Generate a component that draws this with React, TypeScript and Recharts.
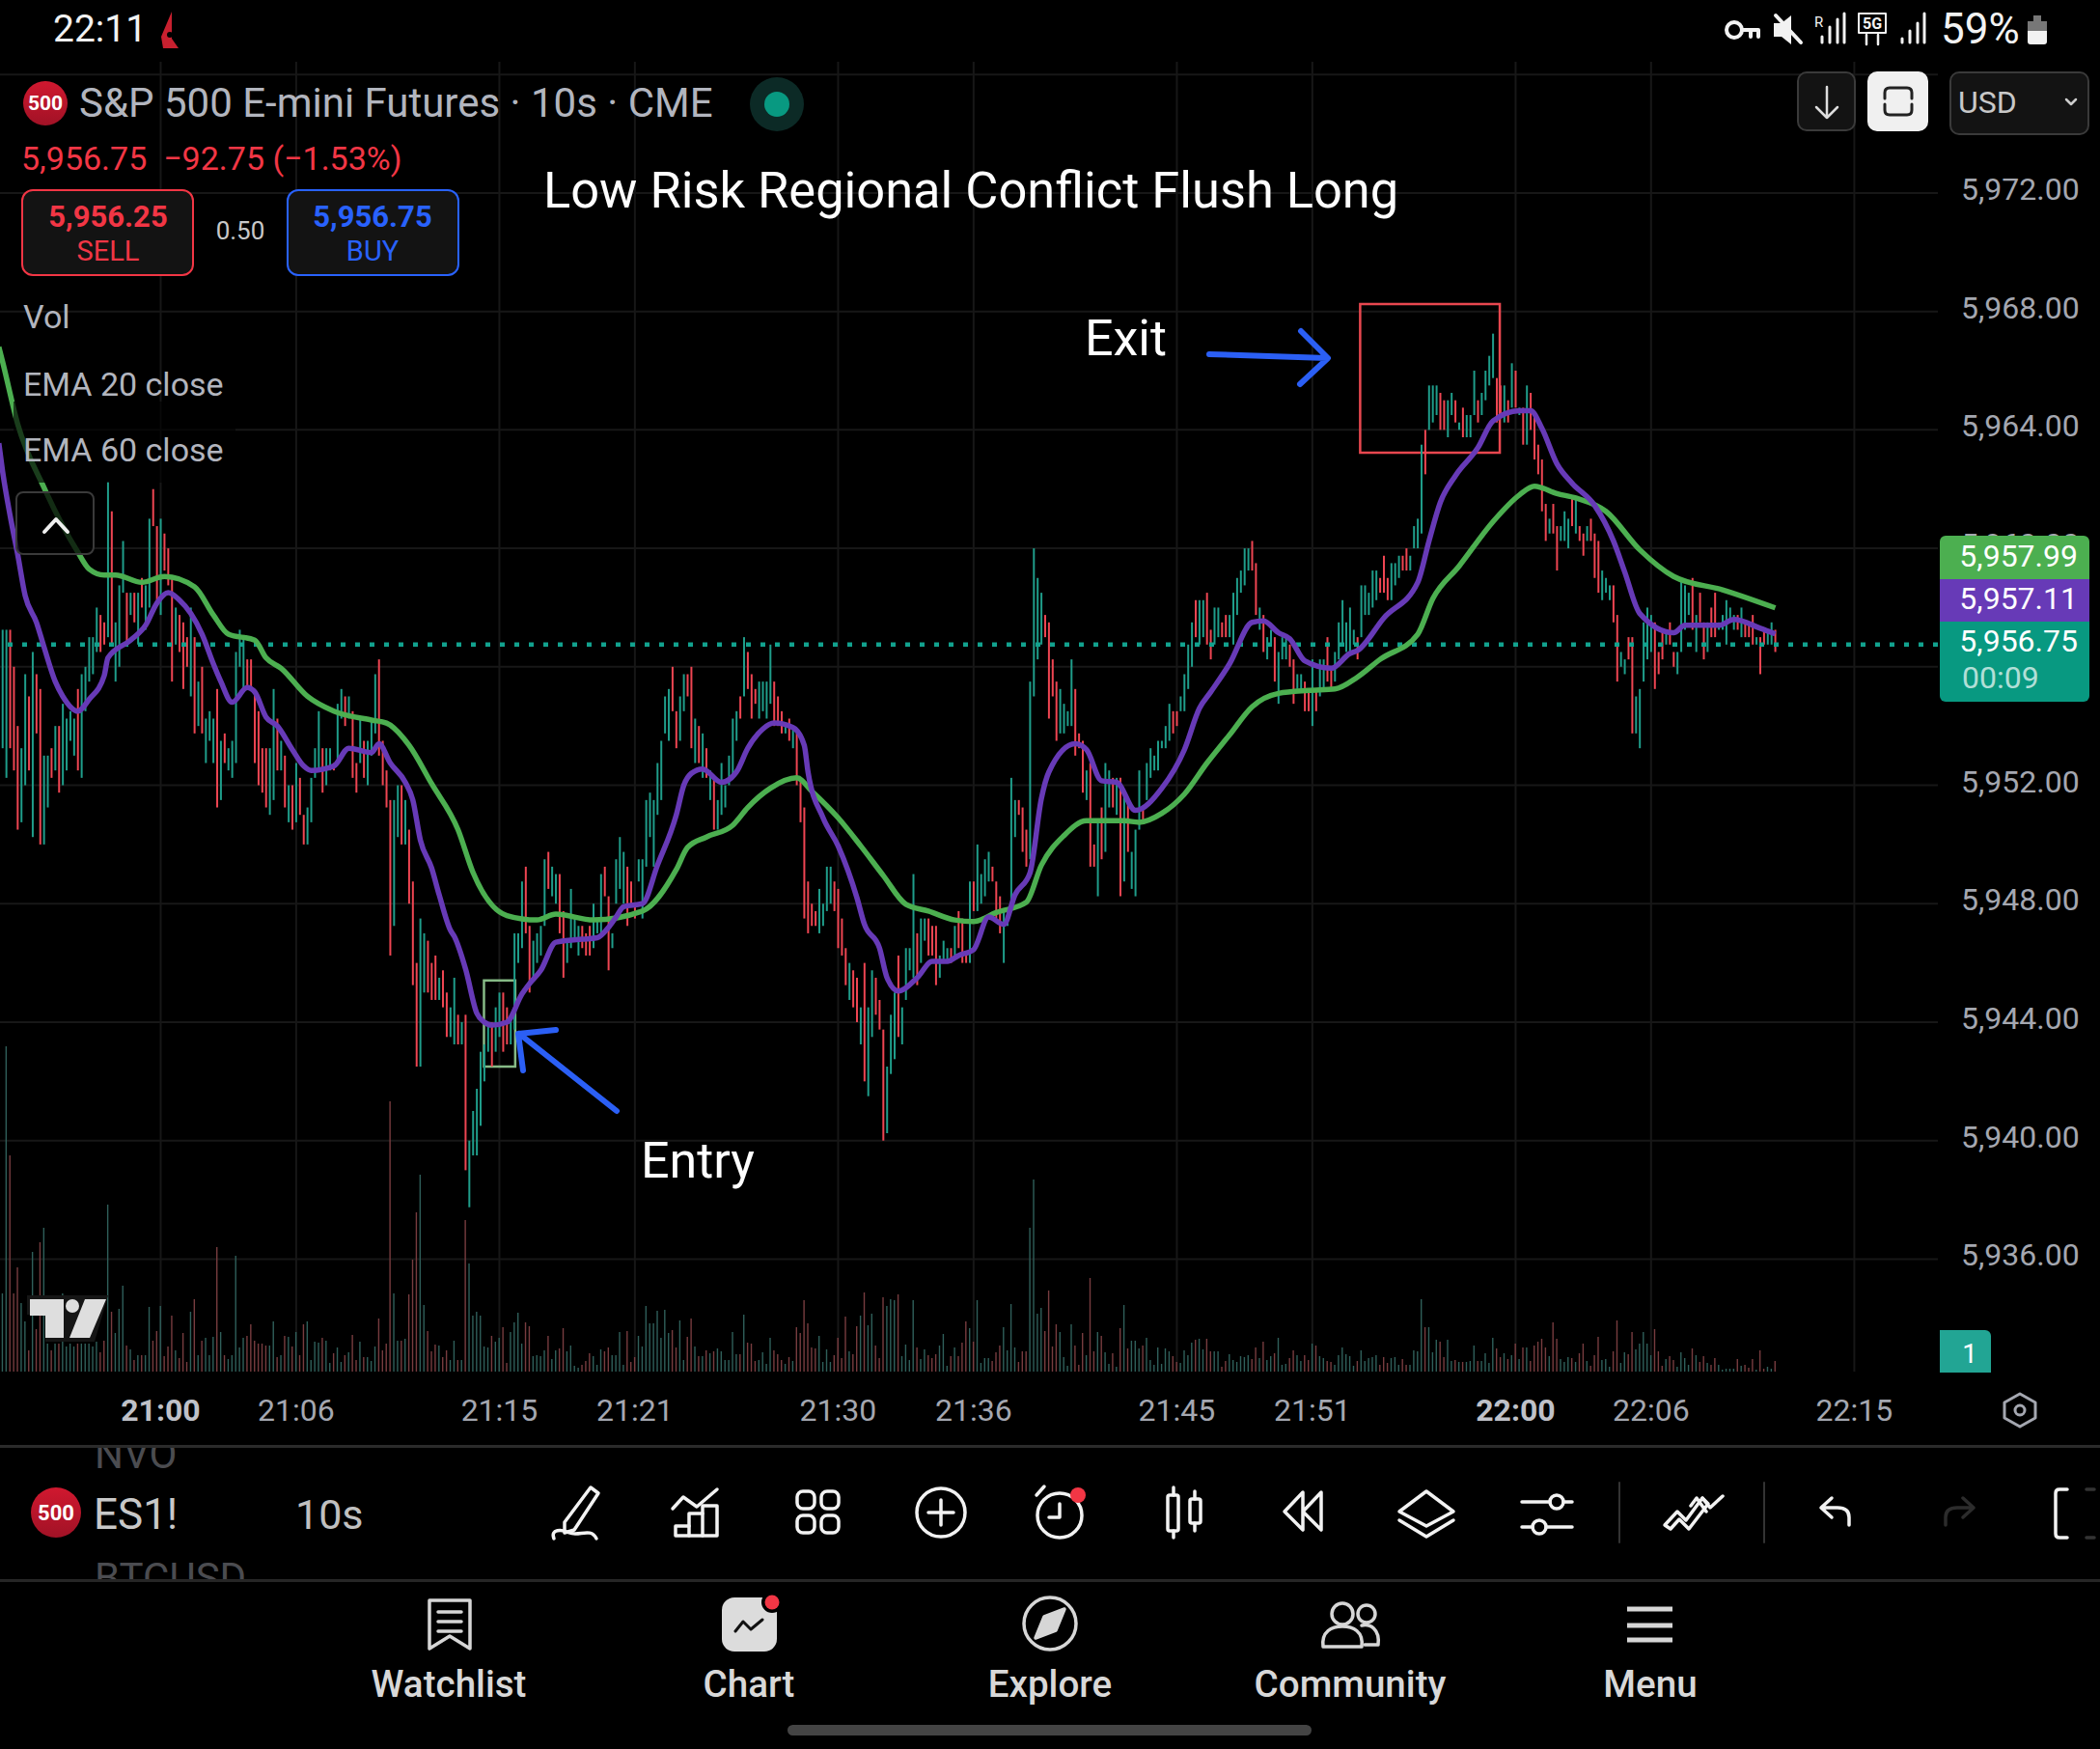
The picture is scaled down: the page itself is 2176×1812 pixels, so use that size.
import React from 'react';
import { ComposedChart, Bar, Line, Cell, XAxis, YAxis, CartesianGrid, ReferenceLine, ReferenceArea } from 'recharts';

// one bar every 10s, index 42 is 21:00
const barHigh = [
  5957.25,5957.25,5957.25,5956,5954,5953.25,5955.75,5955,5956.5,5955.75,
  5955.25,5953,5953,5953.25,5954,5954,5954.75,5954.25,5954.5,5954.25,
  5955.25,5955.75,5956,5957,5957,5958,5957.75,5957.5,5962.25,5961.25,
  5957.5,5958.75,5960.25,5958.5,5958.5,5958.5,5958.5,5959,5958.75,5961,
  5962,5960.75,5961,5960.5,5960,5959,5958,5957.75,5957.5,5957,
  5958,5957,5955.5,5956,5954.25,5954.5,5954.25,5955.25,5953.5,5953.75,
  5953.25,5953.5,5956.5,5957.25,5957,5956.25,5956.25,5955.25,5954.5,5953.25,
  5953.25,5953.25,5955.25,5954.25,5953.5,5953,5952,5952,5952.75,5952.25,
  5951,5951.25,5952.25,5953.25,5954.5,5953.25,5953.25,5953.25,5952.75,5954.75,
  5955.25,5955,5955,5954.5,5952.75,5954.25,5953.5,5953.5,5954.25,5955.75,
  5956.25,5953.5,5952.5,5951.5,5951.5,5952,5952,5951.5,5950.5,5948.75,
  5946,5947.5,5947,5946.75,5946,5946.25,5945.5,5945.75,5945,5944.5,
  5945.5,5944.25,5944,5944.25,5940,5941,5941.75,5943,5943.25,5944,
  5944,5944.5,5945,5945,5944.5,5944.25,5947,5947,5948.75,5949.25,
  5947.25,5946.75,5947,5947.25,5949.5,5949.75,5949.25,5949,5949,5947.75,
  5946.75,5948.5,5947.5,5947.25,5947.25,5947,5947.25,5948,5947.5,5949,
  5949.25,5948.25,5947,5949.5,5950.25,5949.75,5949.25,5948.75,5948,5949.5,
  5949.5,5951.5,5951.75,5951.5,5952.75,5953.5,5955,5955.25,5956,5954.5,
  5955,5955.75,5955.75,5956,5954.25,5954,5953.75,5953.25,5952.5,5952.25,
  5951.5,5952.75,5952,5953,5954.25,5954.5,5955,5957,5956.5,5955.75,
  5955.25,5955.5,5955.5,5955.5,5956.75,5955.5,5955,5954.5,5954,5954.25,
  5954,5953.75,5952.25,5951.25,5948.75,5948,5947.75,5948.5,5948,5949.25,
  5949.25,5948.75,5948.5,5947.5,5946.5,5946,5945.75,5945.5,5944.5,5946,
  5944.5,5945.75,5945.5,5944.75,5943.75,5942.5,5944.25,5945,5946.25,5944.5,
  5946.5,5946.5,5949,5947,5947.5,5947.5,5947.5,5947.25,5947.25,5946.25,
  5946.75,5946.5,5946.5,5947.25,5947.75,5947.5,5946.25,5948.75,5948.75,5950,
  5949,5949.5,5949.75,5949.25,5948.75,5948.25,5947.75,5947.75,5952.25,5951.5,
  5951.5,5951.25,5950.5,5955.5,5960,5959,5958.5,5957.75,5957.5,5956.25,
  5955.5,5955.25,5954.75,5954.5,5956.25,5955.25,5953.75,5953.5,5952.5,5952.75,
  5950,5950.75,5951.25,5952.75,5952.5,5952.25,5952.25,5952.25,5951.75,5951.5,
  5949.75,5950.5,5952.5,5951.25,5952.75,5953.25,5953,5953.5,5953.5,5954,
  5954.75,5954.5,5954.5,5955,5955.75,5956.75,5957.5,5958.25,5958.25,5958.25,
  5958.5,5957.25,5958,5958,5957.5,5957.75,5957.75,5958.5,5959,5959.25,
  5960,5960,5960.25,5959.5,5958,5957.75,5957,5957.25,5957,5956.5,
  5957,5957,5956.75,5956.25,5955.75,5955.75,5955.5,5955.25,5956.25,5955.25,
  5956.25,5956.25,5957,5956,5956.5,5957.5,5958.25,5957.5,5958,5957.25,
  5957,5958.75,5958.75,5958.5,5959.25,5959.25,5959,5959.75,5959,5959.5,
  5959.5,5959.75,5959.75,5960,5959.75,5960.75,5961,5963.5,5964,5965.5,
  5965.5,5965.5,5965.25,5965,5965,5965.25,5965,5964.25,5964.75,5964.5,
  5964.5,5966,5965,5965.25,5966,5966.5,5967.25,5965.75,5965.5,5965.5,
  5965,5966.25,5966,5964.75,5964.75,5965.5,5965.25,5964.5,5963.5,5963,
  5961.5,5961,5961.5,5960.75,5960.75,5961.25,5961,5961.75,5961.75,5960.75,
  5960.5,5960.75,5961,5960.5,5960.25,5959.25,5959,5958.75,5958.75,5957.75,
  5956.5,5956.25,5957,5957,5955,5955.25,5957.5,5958,5957.75,5957.5,
  5956.5,5957.25,5957.25,5957.5,5956.5,5956.5,5959,5958.75,5958.5,5959,
  5957.75,5958.5,5957.5,5957.5,5958,5958.5,5957.5,5957.75,5958.25,5958,
  5957.75,5957.75,5958,5957.5,5957.5,5957.75,5957,5957,5957.25,5957.25,
  5957.5,5957.25,
];
const barLow = [
  5953.25,5952.25,5953.25,5952.5,5950.5,5950.75,5952,5952.5,5950.25,5953.75,
  5950,5950,5951.25,5952.25,5952.5,5951.75,5952,5952.5,5953.5,5953,
  5952.5,5952.25,5954.5,5955.5,5955.75,5956.5,5956.5,5956.75,5957,5956.75,
  5955.5,5956,5958.5,5956.75,5957.75,5957.5,5956.75,5958,5957.25,5958,
  5960.75,5958.25,5957.75,5959.25,5958.75,5955.5,5956.75,5956.5,5955.25,5956,
  5955,5953.75,5954,5953.75,5952.75,5953.5,5952.75,5951.25,5951.5,5952.75,
  5952.5,5952.25,5952.75,5956,5955.25,5955.25,5955.25,5952.75,5952,5951.75,
  5951.25,5951,5951.5,5952.5,5952.5,5951.25,5950.75,5950.5,5950.75,5951,
  5950,5950,5950.75,5952.25,5952.5,5951.75,5952,5952.5,5952.5,5952.75,
  5954.25,5954,5954.25,5952.25,5951.75,5952.75,5952.25,5952,5953,5953.75,
  5953,5952,5951.25,5946.25,5947.25,5950.25,5950,5950,5948,5945.25,
  5942.5,5942.5,5945,5945,5944.75,5944.75,5944.75,5944.5,5943.5,5943.5,
  5943.25,5943.25,5943.25,5939,5937.75,5939.5,5939.5,5940.5,5942,5943,
  5942.5,5943,5943.5,5943,5943.25,5943.25,5943.75,5946,5946.5,5947,
  5945,5945.5,5946,5946.25,5947.25,5948.5,5948.25,5948,5947,5945.5,
  5946,5946.5,5946.75,5946.25,5946.5,5946.25,5946.25,5946.5,5947,5947,
  5948.25,5945.75,5946.5,5948,5948.5,5948,5947.25,5948,5947.5,5948.75,
  5947.5,5949.25,5950.25,5949.25,5951,5951.5,5953.75,5953.5,5954.5,5953.25,
  5953.5,5954.5,5955,5953.25,5952.75,5952.75,5952.25,5952.25,5951.5,5950.5,
  5950.5,5951,5951.25,5952,5952.25,5953.5,5954.25,5955,5955.25,5954.25,
  5954.75,5954.25,5954.5,5954.25,5954.75,5954,5954,5953.75,5953.75,5953.5,
  5953.25,5952,5950.75,5947.5,5947,5947.25,5947.25,5947,5947.25,5947.75,
  5948,5947.75,5946.5,5946.25,5945.25,5944.75,5944.5,5944,5943.25,5942,
  5941.5,5943.5,5944.25,5943.75,5940,5940.25,5942.25,5942.75,5943.5,5943.25,
  5944.75,5945.75,5945.5,5945.25,5946,5946.75,5946.25,5946.25,5945.25,5945.5,
  5946,5946,5946,5946.25,5946.5,5946,5946,5946,5947.75,5947.75,
  5948,5948.25,5948.75,5948.75,5947.5,5947,5946,5947.25,5947.75,5950.25,
  5951,5949.75,5949.25,5949.5,5955,5956.25,5956.75,5957,5954.25,5955,
  5953.5,5953.75,5953.75,5954,5954,5953,5953.25,5951.75,5951.5,5949.25,
  5949.25,5948.25,5949.5,5949.75,5951.25,5951.25,5951,5948.25,5948.75,5949.75,
  5948.5,5948.25,5950.5,5950.75,5951.5,5952.25,5952.5,5952.5,5953.25,5953.25,
  5953.5,5953.75,5954,5954.5,5954.5,5955.25,5956,5957,5956.75,5957,
  5956.75,5956.25,5956.75,5957,5957,5957,5957,5956.75,5957.75,5958.5,
  5958.75,5959.25,5959.25,5957.75,5957.25,5956.5,5956.25,5956.75,5955.5,5954.75,
  5956.25,5956.25,5956,5954.75,5955.25,5955.25,5954.5,5954.5,5954,5954.5,
  5955,5955.25,5955.5,5955.25,5955.5,5956.25,5956.75,5956.5,5956.5,5956.75,
  5956.25,5957,5957.75,5957.75,5958,5958.25,5958.5,5958.5,5958.25,5958.25,
  5958.75,5959,5959.25,5959.25,5959.25,5960,5960,5960.5,5962.5,5964,
  5964.25,5964.5,5964,5964,5963.75,5964.5,5964.25,5964,5963.75,5963.75,
  5963.75,5964.5,5964.25,5964.5,5965,5965.5,5965.75,5964.25,5964.5,5964.25,
  5964.25,5964.75,5964.75,5964.5,5963.5,5963.5,5964,5963,5962.5,5961.25,
  5960.25,5960.5,5960.5,5959.25,5960.25,5960.25,5960,5960.75,5960.5,5960.25,
  5959.75,5960.25,5960.25,5959,5958.5,5958.25,5958.5,5958.25,5957.5,5955.5,
  5956,5955.75,5956.25,5953.75,5953.75,5953.25,5955.5,5956.25,5956.5,5955.25,
  5955.75,5956.25,5956.75,5956.75,5956,5955.75,5956.5,5957.25,5957.75,5957.25,
  5956.5,5957.5,5956.25,5956.5,5957,5957,5957.25,5957.25,5956.75,5957.5,
  5957.25,5957.25,5957,5957,5957,5956.75,5956.75,5955.75,5956.75,5956.75,
  5956.75,5956.5,
];
// u = close above open, d = close below open
const barDir = `
  uuddd uudud duudu duuuu duuuu uddud uuudu duduu ddudd duddd
  ududu uudud uuuuu ddddd duudu dudud duuuu duudu ududd uduuu
  ddddu ududd duudd duddu ududu uuuuu duudd uuuud duuuu duudd
  uuuud dduuu dduuu udddu uuuuu uuudd uuddu dudud uuuuu ududd
  duuuu dddud udddd dduuu udddd uddud uuddd uuudu uuudu udddu
  uudud ddudu uuudd duuuu ddduu uuddd duuuu dddud duduu dudud
  uuudu uuuuu udduu uuduu dduud duuuu uuddu duudu uuddu uddud
  uuddu uuuuu duuuu udddu uuddu uuudu uuddu ududu uuduu uuddu
  dudud udddd duddu uudud duddd uuudd uuddu uuuud ddudd uuuud
  uddud duuuu ududd duddu ud
`.replace(/\s/g, '').split('');
const volumes = [
  81,337,224,81,108,71,52,22,124,44,134,149,29,22,29,29,81,26,29,26,29,29,29,29,26,31,20,32,173,62,40,65,89,27,23,12,17,17,17,67,
  32,42,68,16,26,58,22,14,40,10,62,75,17,32,35,17,36,129,41,17,13,17,120,25,35,37,49,32,29,29,27,27,52,15,17,37,36,26,41,17,
  49,52,12,31,30,35,32,9,19,25,10,17,20,38,12,31,15,15,11,26,55,22,29,280,81,32,32,34,80,116,165,204,69,42,21,28,27,15,22,12,
  32,12,12,157,112,58,62,58,26,25,37,31,35,46,9,41,51,61,29,51,47,16,17,16,22,37,13,22,24,45,21,27,6,4,7,11,19,16,7,23,
  21,25,17,17,41,7,42,10,15,37,26,68,50,50,63,35,64,40,43,25,53,12,36,55,26,16,16,22,19,21,24,21,12,12,41,18,18,59,30,29,
  11,12,20,8,35,22,18,12,8,15,11,46,40,74,50,25,24,37,10,23,10,17,35,14,57,21,18,47,58,82,48,60,27,14,77,68,75,74,80,16,
  28,12,74,25,13,23,17,14,18,27,39,6,16,25,16,30,52,45,31,74,9,14,14,11,20,27,46,22,70,25,10,21,21,149,199,60,66,42,84,26,
  49,41,15,6,49,27,7,40,17,97,21,41,37,20,8,19,5,45,69,24,32,32,24,27,35,12,7,25,8,24,21,16,10,9,22,17,30,33,34,23,
  34,21,21,21,5,11,18,12,10,16,15,17,13,25,14,31,12,16,19,35,7,8,14,22,17,11,17,12,29,27,16,14,11,10,7,17,25,18,16,6,
  11,22,11,14,15,17,7,15,9,14,15,7,13,7,7,22,21,75,46,46,20,33,31,15,33,11,12,10,10,10,11,27,11,11,19,9,35,24,15,19,
  13,17,29,13,25,25,11,27,31,34,25,16,51,34,13,10,15,14,10,19,29,11,6,17,36,12,13,5,21,53,9,20,18,41,23,29,41,29,17,44,
  21,6,13,16,12,5,20,14,7,24,17,10,16,9,7,14,7,2,3,3,3,13,6,7,4,13,2,22,3,5,3,11,
];
// [bar index, value], bar -1 is the part of the line running off the left edge
const ema20Points = [
  [-1,5963.55],[0,5962.6],[2,5961.1],[4,5959.8],[6,5958.4],[9,5957.5],[11,5956.67],[14,5955.5],[16,5955],[20,5954.5],[23,5954.9],[27,5955.7],[28,5956.3],
  [34,5956.9],[38,5957.4],[41,5958.15],[44,5958.5],[47,5958.25],[50,5957.8],[53,5957.1],[56,5956.1],[58,5955.5],[61,5954.8],[65,5955.3],[67,5955.15],
  [70,5954.3],[73,5954],[77,5953.2],[80,5952.65],[82,5952.5],[88,5952.65],[92,5953.25],[98,5953.1],[100,5953.4],[103,5952.75],[107,5952.1],[109,5951.5],
  [111,5950.15],[114,5949.2],[116,5948.3],[119,5947.1],[120,5946.9],[123,5945.8],[126,5944.3],[128,5944],[130,5943.9],[134,5944],[138,5944.95],[140,5945.3],
  [143,5945.75],[147,5946.7],[154,5946.8],[158,5946.85],[161,5947.2],[163,5947.55],[165,5947.9],[170,5948],[174,5949.3],[179,5951],[181,5952],[183,5952.4],
  [186,5952.55],[191,5952.1],[195,5952.45],[198,5953.25],[202,5953.9],[205,5954.1],[210,5953.95],[213,5953.35],[214,5952.45],[218,5950.9],[222,5949.95],[227,5948.2],
  [229,5947.3],[233,5946.5],[235,5945.5],[238,5945.05],[243,5945.5],[247,5946.05],[251,5946.05],[254,5946.25],[258,5946.45],[262,5947.55],[266,5947.3],[269,5948.3],
  [273,5949.05],[276,5951.55],[278,5952.45],[285,5953.4],[288,5953.2],[292,5952.15],[296,5952.1],[301,5951.15],[308,5951.9],[314,5953.2],[318,5954.6],[321,5955.15],
  [326,5956.1],[332,5957.5],[335,5957.55],[339,5957.15],[342,5956.95],[346,5956.2],[353,5955.95],[358,5956.45],[360,5956.55],[367,5957.65],[376,5958.85],[379,5960.25],
  [382,5961.55],[386,5962.45],[392,5963.4],[396,5964.3],[403,5964.65],[406,5964.65],[409,5964.05],[413,5962.85],[417,5962.2],[423,5961.45],[428,5960.25],[431,5959.2],
  [435,5957.8],[444,5957.15],[447,5957.4],[456,5957.4],[460,5957.6],[467,5957.3],[471,5957.11],
];
const ema60Points = [
  [-1,5966.8],[0,5966.3],[4,5964.2],[11,5962.05],[20,5959.87],[23,5959.3],[27,5959.1],[30,5959.1],[37,5958.85],[43,5959.05],[51,5958.7],[56,5957.75],[60,5957.1],
  [67,5956.9],[70,5956.3],[74,5955.95],[81,5955],[88,5954.5],[98,5954.2],[102,5954.1],[108,5953.35],[114,5952.05],[121,5950.5],[125,5949.05],[134,5947.6],
  [142,5947.45],[147,5947.65],[157,5947.45],[170,5947.75],[179,5949.15],[182,5949.9],[187,5950.25],[194,5950.65],[198,5951.25],[204,5951.9],[211,5952.25],[215,5951.8],
  [222,5950.9],[228,5949.95],[234,5948.95],[240,5947.98],[246,5947.75],[253,5947.45],[258,5947.4],[264,5947.7],[272,5948.05],[276,5949.3],[282,5950.3],[288,5950.8],
  [298,5950.8],[302,5950.75],[308,5951.05],[314,5951.7],[320,5952.75],[326,5953.7],[332,5954.65],[339,5955.1],[347,5955.2],[354,5955.25],[360,5955.65],[366,5956.25],
  [376,5957.1],[380,5958.3],[387,5959.4],[396,5960.9],[403,5961.8],[407,5962.1],[413,5961.85],[418,5961.7],[426,5961.25],[435,5959.95],[444,5959.05],[457,5958.6],[471,5957.99],
];
const priceTicks = [5976,5972,5968,5964,5960,5956,5952,5948,5944,5940,5936];
const timeTicks = [42,78,132,168,222,258,312,348,402,438,492];
const timeLabels = ['21:00','21:06','21:15','21:21','21:30','21:36','21:45','21:51','22:00','22:06','22:15'];
const lastPrice = 5956.75;

const ema20Map = new Map(ema20Points.map(p => [p[0], p[1]]));
const ema60Map = new Map(ema60Points.map(p => [p[0], p[1]]));
const table = [
  { i: -1, range: null, vol: null, ema20: ema20Map.get(-1), ema60: ema60Map.get(-1) },
  ...barHigh.map((h, i) => ({
    i,
    range: [barLow[i], h],
    vol: volumes[i],
    ema20: ema20Map.get(i) ?? null,
    ema60: ema60Map.get(i) ?? null,
  })),
];

const UP = '#1f9d8a';
const DOWN = '#ee4552';
const VOL_UP = '#2f5f5a';
const VOL_DOWN = '#773c3f';
const FONT = 'Roboto, sans-serif';

const fmt = (v: number) => v.toLocaleString('en-US', { minimumFractionDigits: 2 });

const PriceTick = ({ y, payload }: any) =>
  payload.value === 5976 ? <g /> : (
    <text x={2032} y={y - 4} dy={11} fontSize={32} fontFamily={FONT} fill="#a4a7b0">{fmt(payload.value)}</text>
  );

const TimeTick = ({ x, payload }: any) => {
  const label = timeLabels[timeTicks.indexOf(payload.value)];
  const bold = label === '21:00' || label === '22:00';
  return (
    <text x={x} y={1472} textAnchor="middle" fontSize={32} fontFamily={FONT} fontWeight={bold ? 700 : 400} fill={bold ? '#bfc1c8' : '#a4a7b0'}>{label}</text>
  );
};

const Txt = ({ x, y, size, color, weight = 400, anchor = 'left', children }: any) => (
  <div style={{
    position: 'absolute', left: x, top: y, fontFamily: FONT, fontSize: size, color, fontWeight: weight, whiteSpace: 'nowrap', lineHeight: 1,
    transform: `translate(${anchor === 'center' ? '-50%' : anchor === 'right' ? '-100%' : '0'}, -50%)`,
  }}>{children}</div>
);

const Box = ({ x, y, w, h, bg = 'none', border, radius = 0 }: any) => (
  <div style={{ position: 'absolute', left: x, top: y, width: w, height: h, background: bg, border, borderRadius: radius, boxSizing: 'border-box' }} />
);

const Icons = () => (
  <svg width={2176} height={1812} style={{ position: 'absolute', left: 0, top: 0 }} fill="none" stroke="#f2f2f2" strokeWidth={3.5} strokeLinecap="round" strokeLinejoin="round">
    {/* drawn arrows */}
    <g stroke="#2b5ff5" strokeWidth={6}>
      <path d="M1253 367L1375 371M1348 343L1376 371L1347 398" />
      <path d="M639 1151L538 1071M576 1067L537 1071L542 1109" />
    </g>
    {/* status bar */}
    <path d="M169 50L185 50L178 40L178 12L167 38Z" fill="#c8202f" stroke="none" />
    <circle cx={176} cy={36} r={3} fill="#000" stroke="none" />
    <circle cx={1797} cy={31} r={8} strokeWidth={4} />
    <path d="M1805 31H1822V38M1814 31V38" strokeWidth={4} />
    <path d="M1838 24H1846L1856 16V46L1846 38H1838Z" fill="#f2f2f2" stroke="none" />
    <path d="M1840 16L1866 44" strokeWidth={4} />
    <path d="M1888 44V38M1896 44V28M1904 44V20M1911 44V14" strokeWidth={3} />
    <text x={1880} y={28} fontSize={15} fontFamily={FONT} fill="#f2f2f2" stroke="none">R</text>
    <rect x={1926} y={14} width={28} height={20} strokeWidth={2} />
    <text x={1930} y={30} fontSize={16} fontWeight={700} fontFamily={FONT} fill="#f2f2f2" stroke="none">5G</text>
    <path d="M1934 36V46M1946 36V46" strokeWidth={2.5} />
    <path d="M1971 44V40M1979 44V32M1987 44V24M1994 44V14" strokeWidth={3} />
    <rect x={2101} y={22} width={20} height={24} rx={3} fill="#f2f2f2" stroke="none" />
    <rect x={2101} y={22} width={20} height={10} fill="#777" stroke="none" />
    <rect x={2107} y={16} width={8} height={6} fill="#777" stroke="none" />
    {/* header buttons */}
    <path d="M1893 90V122M1882 111L1893 122L1904 111" stroke="#ddd" strokeWidth={2.5} />
    <path d="M1953 102V96Q1953 91 1958 91H1976Q1981 91 1981 96V102M1953 108V114Q1953 119 1958 119H1976Q1981 119 1981 114V108" stroke="#222" strokeWidth={3} />
    <path d="M2141 103L2146 108L2151 103" stroke="#ccc" strokeWidth={2.5} />
    <path d="M46 551L58 538L70 551" strokeWidth={4} stroke="#eee" />
    {/* settings hexagon */}
    <path d="M2093 1444L2109 1453V1469L2093 1478L2077 1469V1453Z" stroke="#a4a7b0" strokeWidth={3} />
    <circle cx={2093} cy={1461} r={5} stroke="#a4a7b0" strokeWidth={3} />
    {/* toolbar */}
    <path d="M612 1541L620 1547L595 1585L585 1588L585 1577Z" />
    <path d="M574 1594C570 1584 582 1584 590 1588C600 1592 612 1582 618 1594" />
    <path d="M697 1563L708 1551L722 1561L743 1543" />
    <path d="M700 1591V1581H714V1568H728V1560H743V1591Z" />
    <path d="M714 1591V1581M728 1591V1568" />
    <rect x={826} y={1545} width={18} height={18} rx={6} />
    <rect x={851} y={1545} width={18} height={18} rx={6} />
    <rect x={826} y={1570} width={18} height={18} rx={6} />
    <rect x={851} y={1570} width={18} height={18} rx={6} />
    <circle cx={975} cy={1567} r={25} />
    <path d="M975 1554V1580M962 1567H988" />
    <circle cx={1098} cy={1570} r={23} />
    <path d="M1098 1558V1572H1087M1074 1549L1082 1540" />
    <circle cx={1117} cy={1549} r={8} fill="#f23645" stroke="none" />
    <rect x={1210} y={1549} width={11} height={37} rx={2} />
    <path d="M1216 1541V1549M1216 1586V1593M1238 1545V1553M1238 1578V1586" />
    <rect x={1233} y={1553} width={11} height={25} rx={2} />
    <path d="M1350 1546L1331 1566L1350 1585ZM1369 1546L1350 1566L1369 1585Z" />
    <path d="M1478 1545L1506 1566L1478 1581L1450 1566Z" />
    <path d="M1450 1575L1478 1592L1506 1575" />
    <path d="M1577 1556H1606M1620 1556H1629M1577 1582H1588M1602 1582H1629" />
    <circle cx={1613} cy={1556} r={7} />
    <circle cx={1595} cy={1582} r={7} />
    <path d="M1678 1536V1598M1828 1536V1598" stroke="#333" strokeWidth={2} />
    <path d="M1725 1580L1738 1566L1747 1575L1764 1552L1770 1558L1750 1584L1740 1574L1731 1584Z" />
    <path d="M1764 1552L1772 1562L1785 1550M1752 1560L1758 1552L1768 1566" />
    <path d="M1916 1580V1572Q1916 1562 1904 1562H1889M1898 1552L1887 1562L1898 1572" />
    <path d="M2016 1580V1572Q2016 1562 2028 1562H2043M2034 1552L2045 1562L2034 1572" stroke="#2c2c2c" />
    <path d="M2142 1543H2134Q2130 1543 2130 1547V1589Q2130 1593 2134 1593H2142" />
    <path d="M2162 1543H2170M2162 1593H2170" stroke="#333" />
    {/* bottom nav */}
    <g stroke="#d6d6d6">
      <path d="M445 1658H487V1708L466 1695L445 1708Z" />
      <path d="M454 1670H478M454 1680H478M454 1690H478" />
      <circle cx={1088} cy={1682} r={27} />
      <path d="M1103 1667L1094 1689L1073 1697L1082 1675Z" fill="#d6d6d6" />
      <circle cx={1391} cy={1672} r={11} />
      <circle cx={1416} cy={1672} r={9} />
      <path d="M1371 1706C1369 1690 1380 1685 1391 1685C1402 1685 1413 1690 1411 1706Z" />
      <path d="M1411 1684C1420 1682 1430 1688 1428 1704H1414" />
      <path d="M1686 1667H1733M1686 1684H1733M1686 1699H1733" strokeWidth={5} strokeLinecap="butt" />
    </g>
    <rect x={748} y={1655} width={57} height={56} rx={13} fill="#dcdcdc" stroke="none" />
    <path d="M762 1690L770 1680L778 1688L790 1678" stroke="#111" strokeWidth={3} />
    <circle cx={800} cy={1660} r={11} fill="#000" stroke="none" />
    <circle cx={800} cy={1660} r={7.5} fill="#f23645" stroke="none" />
    {/* tradingview mark */}
    <path d="M28 1342H112L98 1390H47V1362H28Z" fill="#151515" stroke="none" />
    <path d="M31 1346H66V1386H47V1363H31Z M88 1346H110L93 1386H72Z" fill="#dedede" stroke="none" />
    <circle cx={75} cy={1353} r={7} fill="#dedede" stroke="none" />
    {/* divider rows */}
    <rect x={0} y={1497} width={2176} height={3} fill="#2b2b2b" stroke="none" />
    <rect x={0} y={1636} width={2176} height={3} fill="#262626" stroke="none" />
    <rect x={816} y={1787} width={543} height={11} rx={5.5} fill="#444" stroke="none" />
  </svg>
);

const Badge = ({ cx, cy, r, fs }: any) => (
  <div style={{
    position: 'absolute', left: cx - r, top: cy - r, width: 2 * r, height: 2 * r, borderRadius: '50%', background: 'linear-gradient(#d0182f,#a11226)',
    display: 'flex', alignItems: 'center', justifyContent: 'center', color: '#fff', fontFamily: FONT, fontWeight: 700, fontSize: fs,
  }}>500</div>
);

const Clipped = ({ top, h, textTop, children }: any) => (
  <div style={{ position: 'absolute', left: 98, top, height: h, width: 170, overflow: 'hidden' }}>
    <div style={{ position: 'absolute', top: textTop, fontFamily: FONT, fontSize: 42, lineHeight: 1, color: '#4b4c50' }}>{children}</div>
  </div>
);

const App: React.FC = () => (
  <div style={{ position: 'relative', width: 2176, height: 1812, background: '#000', overflow: 'hidden' }}>
    <style>{'html,body{margin:0;background:#000}'}</style>
    <div style={{ position: 'absolute', left: 0, top: 0 }}>
      <ComposedChart width={2176} height={1498} data={table} margin={{ top: 64, right: 0, bottom: 0, left: 0 }}>
        <XAxis dataKey="i" type="number" domain={[-0.69, 514.2]} allowDataOverflow ticks={timeTicks} tick={TimeTick} height={77} axisLine={false} tickLine={false} interval={0} />
        <XAxis xAxisId="v" dataKey="i" type="number" domain={[-0.69, 514.2]} allowDataOverflow hide />
        <YAxis orientation="right" width={168} domain={[5932.2, 5976.43]} allowDataOverflow ticks={priceTicks} tick={PriceTick} axisLine={false} tickLine={false} interval={0} />
        <YAxis yAxisId="v" hide domain={[0, 1357]} allowDataOverflow />
        <CartesianGrid stroke="#171717" strokeWidth={2} syncWithTicks />
        <Bar xAxisId="v" yAxisId="v" dataKey="vol" barSize={1.4} isAnimationActive={false}>
          {table.map((d) => <Cell key={d.i} fill={barDir[d.i] === 'u' ? VOL_UP : VOL_DOWN} />)}
        </Bar>
        <Bar dataKey="range" barSize={2} isAnimationActive={false}>
          {table.map((d) => <Cell key={d.i} fill={barDir[d.i] === 'u' ? UP : DOWN} />)}
        </Bar>
        <ReferenceLine y={lastPrice} stroke="#12a28e" strokeWidth={4.5} strokeDasharray="5 10" />
        <Line dataKey="ema60" stroke="#4caf50" strokeWidth={5.5} dot={false} connectNulls type="monotone" isAnimationActive={false} />
        <Line dataKey="ema20" stroke="#673ab7" strokeWidth={5.5} dot={false} connectNulls type="monotone" isAnimationActive={false} />
        <ReferenceArea x1={360.7} x2={397.8} y1={5963.23} y2={5968.25} fill="none" stroke="#e8474f" strokeWidth={2.5} />
        <ReferenceArea x1={127.9} x2={136.2} y1={5942.5} y2={5945.41} fill="none" stroke="#86ba86" strokeWidth={2.5} />
      </ComposedChart>
    </div>

    <Box x={14} y={416} w={230} h={84} bg="rgba(0,0,0,0.65)" />
    <Box x={16} y={509} w={82} h={66} bg="rgba(0,0,0,0.75)" border="2px solid #3a3a3a" radius={8} />
    <Box x={2010} y={555} w={155} h={45} bg="#4caf50" radius="6px 6px 0 0" />
    <Box x={2010} y={600} w={155} h={44} bg="#673ab7" />
    <Box x={2010} y={644} w={155} h={83} bg="#089981" radius="0 0 6px 6px" />
    <Box x={2010} y={1378} w={53} h={44} bg="#22a594" radius="0 6px 0 0" />
    <Box x={22} y={196} w={179} h={90} bg="#131313" border="2.5px solid #f23645" radius={12} />
    <Box x={297} y={196} w={179} h={90} bg="#131313" border="2.5px solid #2962ff" radius={12} />
    <Box x={1862} y={74} w={61} h={62} bg="#131313" border="2px solid #3a3a3a" radius={10} />
    <Box x={1935} y={74} w={63} h={62} bg="#f0f0f0" radius={10} />
    <Box x={2020} y={74} w={145} h={66} bg="#131313" border="2px solid #3a3a3a" radius={10} />
    <Box x={777} y={80} w={56} h={56} bg="#0c2a26" radius="50%" />
    <Box x={792} y={95} w={26} h={26} bg="#089981" radius="50%" />

    <Icons />
    <Badge cx={47} cy={107} r={23} fs={21} />
    <Badge cx={58} cy={1567} r={26} fs={22} />

    <Txt x={55} y={30} size={39} color="#f2f2f2">22:11</Txt>
    <Txt x={2011} y={30} size={44} color="#f2f2f2">59%</Txt>
    <Txt x={82} y={107} size={42} color="#b2b5be">S&amp;P 500 E-mini Futures · 10s · CME</Txt>
    <Txt x={22} y={164} size={34} color="#f23645">5,956.75&nbsp; −92.75 (−1.53%)</Txt>
    <Txt x={112} y={224} size={31} weight={700} color="#f23645" anchor="center">5,956.25</Txt>
    <Txt x={112} y={260} size={29} color="#f23645" anchor="center">SELL</Txt>
    <Txt x={249} y={239} size={26} color="#c8c8c8" anchor="center">0.50</Txt>
    <Txt x={386} y={224} size={31} weight={700} color="#2962ff" anchor="center">5,956.75</Txt>
    <Txt x={386} y={260} size={29} color="#2962ff" anchor="center">BUY</Txt>
    <Txt x={24} y={328} size={34} color="#b2b5be">Vol</Txt>
    <Txt x={24} y={398} size={34} color="#b2b5be">EMA 20 close</Txt>
    <Txt x={24} y={466} size={34} color="#b2b5be">EMA 60 close</Txt>
    <Txt x={2029} y={106} size={32} color="#c8c8c8">USD</Txt>

    <Txt x={563} y={197} size={52.4} color="#fff">Low Risk Regional Conflict Flush Long</Txt>
    <Txt x={1124} y={351} size={52} color="#fff">Exit</Txt>
    <Txt x={664} y={1203} size={52} color="#fff">Entry</Txt>

    <Txt x={2153} y={576} size={32} color="#fff" anchor="right">5,957.99</Txt>
    <Txt x={2153} y={620} size={32} color="#fff" anchor="right">5,957.11</Txt>
    <Txt x={2153} y={664} size={32} color="#fff" anchor="right">5,956.75</Txt>
    <Txt x={2033} y={702} size={32} color="rgba(255,255,255,0.7)">00:09</Txt>
    <Txt x={2041} y={1403} size={28} color="#fff" anchor="center">1</Txt>

    <Clipped top={1500} h={22} textTop={-14}>NVO</Clipped>
    <Txt x={97} y={1569} size={44} color="#c8c8c8">ES1!</Txt>
    <Txt x={306} y={1569} size={43} color="#c0c0c0">10s</Txt>
    <Clipped top={1612} h={24} textTop={2}>BTCUSD</Clipped>

    <Txt x={465} y={1745} size={38.6} weight={500} color="#d8d8d8" anchor="center">Watchlist</Txt>
    <Txt x={776} y={1745} size={38.6} weight={500} color="#d8d8d8" anchor="center">Chart</Txt>
    <Txt x={1088} y={1745} size={38.6} weight={500} color="#d8d8d8" anchor="center">Explore</Txt>
    <Txt x={1399} y={1745} size={38.6} weight={500} color="#d8d8d8" anchor="center">Community</Txt>
    <Txt x={1710} y={1745} size={38.6} weight={500} color="#d8d8d8" anchor="center">Menu</Txt>
  </div>
);

export default App;
